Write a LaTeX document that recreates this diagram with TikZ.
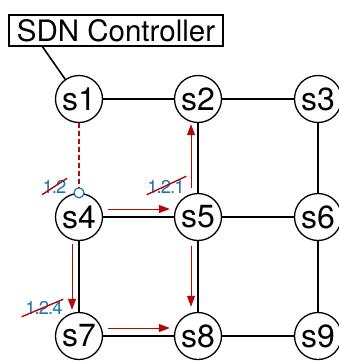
\documentclass[tikz,border=0pt]{standalone}
\usepackage{fontspec}
\setmainfont{TeX Gyre Heros}
\usetikzlibrary{arrows.meta,calc}
\definecolor{dred}{RGB}{175,10,10}
\definecolor{lblue}{RGB}{30,115,175}
\newcommand{\dt}{\kern-1pt.\kern-1pt}
\tikzset{
  sw/.style={circle,draw,line width=1.3pt,minimum size=47pt,inner sep=0pt,fill=white,font=\fontsize{32}{32}\selectfont},
  link/.style={line width=1.6pt},
  flow/.style={draw=dred,line width=1pt,-{Triangle[length=11pt,width=8pt]}},
  lbl/.style={text=lblue,inner sep=0.5pt,font=\fontsize{18.5}{18.5}\selectfont},
  strike/.style={draw=dred,line width=1.4pt},
  ctrlbox/.style={draw,line width=1.2pt,minimum width=214pt,minimum height=31pt,inner sep=0pt,font=\fontsize{29.5}{29.5}\selectfont},
}
\begin{document}
\begin{tikzpicture}[x=1pt,y=-1pt]
\useasboundingbox (0,0) rectangle (339,361);
% links
\coordinate (p1) at (79,99);
\node[ctrlbox] (ctrl) at (116,30.5) {SDN Controller};
\coordinate (cb) at ($(ctrl.south west)+(34,0)$);
\draw[link] (cb) -- (p1);
\draw[link] (79,99) -- (318,99);
\draw[link] (79,217) -- (318,217);
\draw[link] (79,336) -- (318,336);
\draw[link] (198,99) -- (198,336);
\draw[link] (318,99) -- (318,336);
\draw[link] (79,217) -- (79,336);
% switches
\node[sw] (s1) at (79,99) {s1};
\node[sw] (s2) at (198,99) {s2};
\node[sw] (s3) at (318,99) {s3};
\node[sw] (s4) at (79,217) {s4};
\node[sw] (s5) at (198,217) {s5};
\node[sw] (s6) at (318,217) {s6};
\node[sw] (s7) at (79,336) {s7};
\node[sw] (s8) at (198,336) {s8};
\node[sw] (s9) at (318,336) {s9};
% dashed controller path
\node[circle,draw=lblue,line width=1.2pt,fill=white,minimum size=10pt,inner sep=0pt] (port) at (s4.north) {};
\draw[dred,line width=2pt,dash pattern=on 5pt off 3pt] (s1.south) -- (port.north);
% flows
\draw[flow,shorten <=5pt,shorten >=4pt] ([yshift=8pt]s4.east) -- ([yshift=8pt]s5.west);
\draw[flow,shorten <=5pt,shorten >=4pt] ([yshift=8pt]s7.east) -- ([yshift=8pt]s8.west);
\draw[flow,shorten <=5pt,shorten >=1pt] ([xshift=-7pt]s5.north) -- ([xshift=-7pt]s2.south);
\draw[flow,shorten <=4.5pt,shorten >=5pt] ([xshift=-7pt]s5.south) -- ([xshift=-7pt]s8.north);
\draw[flow,shorten <=3pt,shorten >=2pt] ([xshift=-7pt]s4.south) -- ([xshift=-7pt]s7.north);
% labels
\node[lbl] (l12) at (54.5,186.5) {1\dt2};
\draw[strike] ([yshift=-1pt]l12.south west) -- ([yshift=1pt]l12.north east);
\node[lbl] (l121) at (166,186.5) {1\dt2\dt1};
\draw[strike] ([yshift=-1pt]l121.south west) -- ([yshift=3pt,xshift=1pt]l121.north east);
\node[lbl] (l124) at (44,307.5) {1\dt2\dt4};
\draw[strike] ([yshift=-2pt,xshift=-3pt]l124.south west) -- ([yshift=1pt]l124.north east);
\end{tikzpicture}
\end{document}
